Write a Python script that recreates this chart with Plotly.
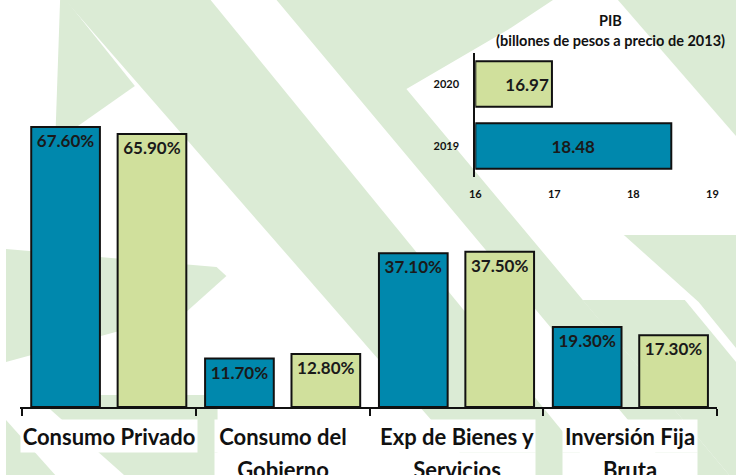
import plotly.graph_objects as go

# ---------------- data ----------------
categories = ["Consumo Privado", "Consumo del Gobierno", "Exp de Bienes y Servicios", "Inversión Fija Bruta"]
label_lines = [["Consumo Privado"], ["Consumo del", "Gobierno"], ["Exp de Bienes y", "Servicios"], ["Inversión Fija", "Bruta"]]
share_2019 = [67.6, 11.7, 37.1, 19.3]
share_2020 = [65.9, 12.8, 37.5, 17.3]

pib_years = ["2019", "2020"]
pib_values = [18.48, 16.97]
pib_ticks = [16, 17, 18, 19]

# ---------------- style ----------------
W, H = 742, 475
BLUE = "#0088AD"
LIME = "#D0E09C"
BG_GREEN = "#DBEBD5"
FONT = "Lato"

def px(x):
    return x / W

def py(y):
    return 1 - y / H

# background decoration (pixel polygons)
bg_polys = [
    [(60, 0), (208, 0), (602, 475), (481, 475)],
    [(55, 0), (61, 0), (131, 86), (50, 142)],
    [(0, 249), (214, 267), (224, 276), (182, 313), (0, 362)],
    [(275, 0), (556, 0), (513, 28), (407, 89), (735, 475), (679, 475)],
    [(622, 0), (742, 0), (742, 136)],
    [(628, 235), (742, 235), (742, 348), (704, 302)],
    [(586, 300), (690, 300), (742, 362), (742, 475), (735, 475)],
    [(0, 420), (0, 475), (50, 475)],
    [(40, 405), (95, 395), (215, 395), (215, 475), (120, 475)],
]
shapes = []
for poly in bg_polys:
    path = "M " + " L ".join(f"{px(x):.4f},{py(y):.4f}" for x, y in poly) + " Z"
    shapes.append(dict(type="path", path=path, xref="paper", yref="paper",
                       fillcolor=BG_GREEN, line=dict(width=0), layer="below"))

fig = go.Figure()

# main grouped bars
for vals, col, nm in ((share_2019, BLUE, "2019"), (share_2020, LIME, "2020")):
    fig.add_trace(go.Bar(
        x=categories, y=vals, name=nm,
        marker=dict(color=col, line=dict(color="#111111", width=2)),
        texttemplate="<b>%{y:.2f}%</b>", textposition="inside", insidetextanchor="end",
        textangle=0, constraintext="none",
        textfont=dict(family=FONT, size=17, color="#1a1a1a"),
        xaxis="x", yaxis="y", showlegend=False, hoverinfo="skip"))

# inset PIB bars (start at the axis minimum)
pib_colors = [BLUE, LIME]
pib_anchor = ["middle", "end"]
for yr, val, col, anc in zip(pib_years, pib_values, pib_colors, pib_anchor):
    fig.add_trace(go.Bar(
        y=[yr], x=[val - pib_ticks[0]], base=pib_ticks[0], orientation="h",
        offsetgroup="pib",
        customdata=[val],
        marker=dict(color=col, line=dict(color="#111111", width=2)),
        texttemplate="<b>%{customdata:.2f}</b>", textposition="inside",
        insidetextanchor=anc, textangle=0, constraintext="none",
        textfont=dict(family=FONT, size=17, color="#1a1a1a"),
        xaxis="x2", yaxis="y2", showlegend=False, hoverinfo="skip"))

# category label annotations with white boxes
annotations = []
box_w = [176, 136, 156, 134]
line_y = [436, 469]
for cat, lines, bw in zip(categories, label_lines, box_w):
    for i, ln in enumerate(lines):
        annotations.append(dict(
            x=cat, xref="x", y=py(line_y[i]), yref="paper",
            text=f"<b>{ln}</b>", showarrow=False, xanchor="center", yanchor="middle",
            font=dict(family=FONT, size=22, color="#111111"),
            bgcolor="white", width=bw, height=32, borderpad=0))

annotations.append(dict(x=px(614), y=py(20), xref="paper", yref="paper",
                        xanchor="center", yanchor="middle",
                        text="<b>PIB</b>", showarrow=False,
                        font=dict(family=FONT, size=14.5, color="#111111")))
annotations.append(dict(x=px(614), y=py(40), xref="paper", yref="paper",
                        xanchor="center", yanchor="middle",
                        text="<b>(billones de pesos a precio de 2013)</b>", showarrow=False,
                        font=dict(family=FONT, size=14.5, color="#111111")))

fig.update_layout(
    width=W, height=H,
    margin=dict(l=0, r=0, t=0, b=0),
    paper_bgcolor="white", plot_bgcolor="rgba(0,0,0,0)",
    barmode="group", bargap=0.006, bargroupgap=0.205,
    shapes=shapes, annotations=annotations,
    xaxis=dict(domain=[px(14), px(723)], type="category",
               showticklabels=False, showline=True, linecolor="#111111", linewidth=2,
               ticks="outside", tickson="boundaries", ticklen=7, tickwidth=2,
               tickcolor="#111111", showgrid=False, zeroline=False, fixedrange=True),
    yaxis=dict(domain=[py(407), 1], range=[0, 407 / (280 / 67.6)],
               visible=False, fixedrange=True),
    xaxis2=dict(domain=[px(477), px(718)], range=[pib_ticks[0], pib_ticks[-1]], anchor="y2",
                tickvals=pib_ticks, ticks="", showline=False, showgrid=False,
                zeroline=False, ticklabelstandoff=9,
                tickfont=dict(family=FONT, size=11, color="#111111", weight="bold")),
    yaxis2=dict(domain=[py(177), py(53)], anchor="x2", type="category",
                categoryarray=pib_years, showline=True, linecolor="#111111",
                linewidth=2, ticks="", showgrid=False, zeroline=False,
                ticklabelstandoff=12,
                tickfont=dict(family=FONT, size=11, color="#111111", weight="bold")),
)
fig.update_traces(selector=dict(xaxis="x2"), width=0.73)

fig.write_html("out.html")
